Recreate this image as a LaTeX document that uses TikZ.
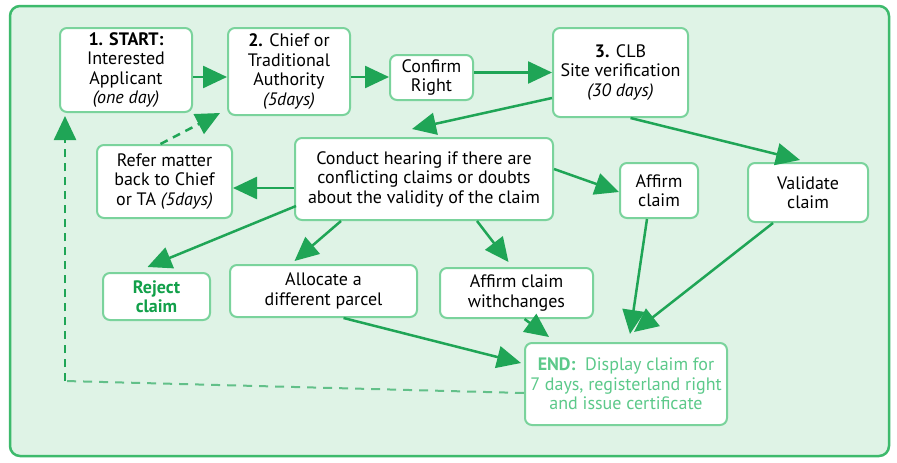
\documentclass[tikz,border=0pt]{standalone}
\usepackage{fontspec}
\setmainfont{PT Sans}
\usetikzlibrary{arrows.meta,calc}
\definecolor{bg}{HTML}{DFF3E6}
\definecolor{framec}{HTML}{3DBA6C}
\definecolor{boxline}{HTML}{7AD39C}
\definecolor{arr}{HTML}{1FA556}
\definecolor{rej}{HTML}{12A04A}
\definecolor{endc}{HTML}{5CC98A}
\begin{document}
\begin{tikzpicture}[x=1pt,y=-1pt,
  box/.style={draw=boxline, line width=2pt, fill=white, rounded corners=7pt, align=center,
    font=\fontsize{18}{19.5}\selectfont, inner sep=0pt},
  arrowline/.style={draw=arr, line width=2.5pt, -{Triangle[length=24pt,width=22pt]}},
  dasharrow/.style={draw=arr, line width=2.5pt, dash pattern=on 8pt off 6pt, -{Triangle[length=24pt,width=22pt]}},
  dashline/.style={draw=arr!70, line width=2pt, dash pattern=on 9pt off 7pt}]
\useasboundingbox (0,0) rectangle (897,463);
\fill[white] (0,0) rectangle (897,463);
\draw[framec, line width=2.5pt, fill=bg, rounded corners=10pt] (10,6) rectangle (889,456);

\node[box, minimum width=132, minimum height=84] (start) at (126,70)
  {\textbf{1. START:}\\Interested\\Applicant\\\textit{(one day)}};
\node[box, minimum width=122, minimum height=87] (chief) at (289,71.5)
  {\textbf{2.} Chief or\\Traditional\\Authority\\\textit{(5days)}};
\node[box, minimum width=83, minimum height=45] (confirm) at (431.5,77.5)
  {Confirm\\Right};
\node[box, minimum width=135, minimum height=89] (clb) at (620.5,72.5)
  {\textbf{3.} CLB\\Site verification\\\textit{(30 days)}};
\node[box, minimum width=135, minimum height=73] (refer) at (164.5,181.5)
  {Refer matter\\back to Chief\\or TA \textit{(5days)}};
\node[box, minimum width=258, minimum height=82] (conduct) at (424,179)
  {Conduct hearing if there are\\conflicting claims or doubts\\about the validity of the claim};
\node[box, minimum width=78, minimum height=55] (affirm) at (659,190.5)
  {Affirm\\claim};
\node[box, minimum width=120, minimum height=59] (validate) at (808,192.5)
  {Validate\\claim};
\node[box, minimum width=107, minimum height=47, text=rej, font=\fontsize{18}{19.5}\selectfont\bfseries] (reject) at (156.5,296.5)
  {Reject\\claim};
\node[box, minimum width=187, minimum height=52] (allocate) at (323.5,291)
  {Allocate a\\different parcel};
\node[box, minimum width=153, minimum height=50] (affirmch) at (516.5,293)
  {Affirm claim\\withchanges};
\node[box, minimum width=202, minimum height=82, text=endc] (end) at (626,384)
  {\textbf{END:}\ \ Display claim for\\7 days, registerland right\\and issue certificate};

\draw[arrowline] ($(start.east)+(0,7)$) -- ($(chief.west)+(0,5.5)$);
\draw[arrowline] ($(chief.east)+(0,5.5)$) -- ($(confirm.west)+(0,-0.5)$);
\draw[arrowline] ($(confirm.east)+(0,-5)$) -- (clb.west);
\draw[arrowline] ($(clb.south west)+(0,-20)$) -- ($(conduct.north)+(-12,-8)$);
\draw[arrowline] ($(clb.south)+(10,0)$) -- ($(validate.north)+(-8,-2)$);
\draw[arrowline] ($(conduct.west)+(0,9)$) -- ($(refer.east)+(0,6.5)$);
\draw[arrowline] ($(conduct.east)+(0,-10)$) -- ($(affirm.west)+(0,1.5)$);
\draw[dasharrow] ($(refer.north)+(-4,0)$) -- ($(chief.south west)+(-7,-3)$);
\draw[arrowline] ($(conduct.south west)+(2,-15)$) -- ($(reject.north)+(-9,-5)$);
\draw[arrowline] ($(conduct.south west)+(47,0)$) -- ($(allocate.north)+(-29,-3)$);
\draw[arrowline] ($(conduct.south west)+(183,0)$) -- ($(affirmch.north)+(-8,-5)$);
\draw[arrowline] ($(allocate.south)+(20,0)$) -- ($(end.west)+(-3,-21)$);
\draw[arrowline] ($(affirmch.south)+(8,0)$) -- ($(end.north west)+(25,-5)$);
\draw[arrowline] ($(affirm.south)+(-12,0)$) -- ($(end.north)+(4,-8)$);
\draw[arrowline] ($(validate.south)+(-35,0)$) -- ($(end.north)+(8,-10)$);
\draw[dashline] ($(end.west)+(0,9)$) -- ($(start.south west)+(6,268)$);
\draw[dasharrow] ($(start.south west)+(6,268)$) -- ($(start.south west)+(6,3)$);
\end{tikzpicture}
\end{document}
